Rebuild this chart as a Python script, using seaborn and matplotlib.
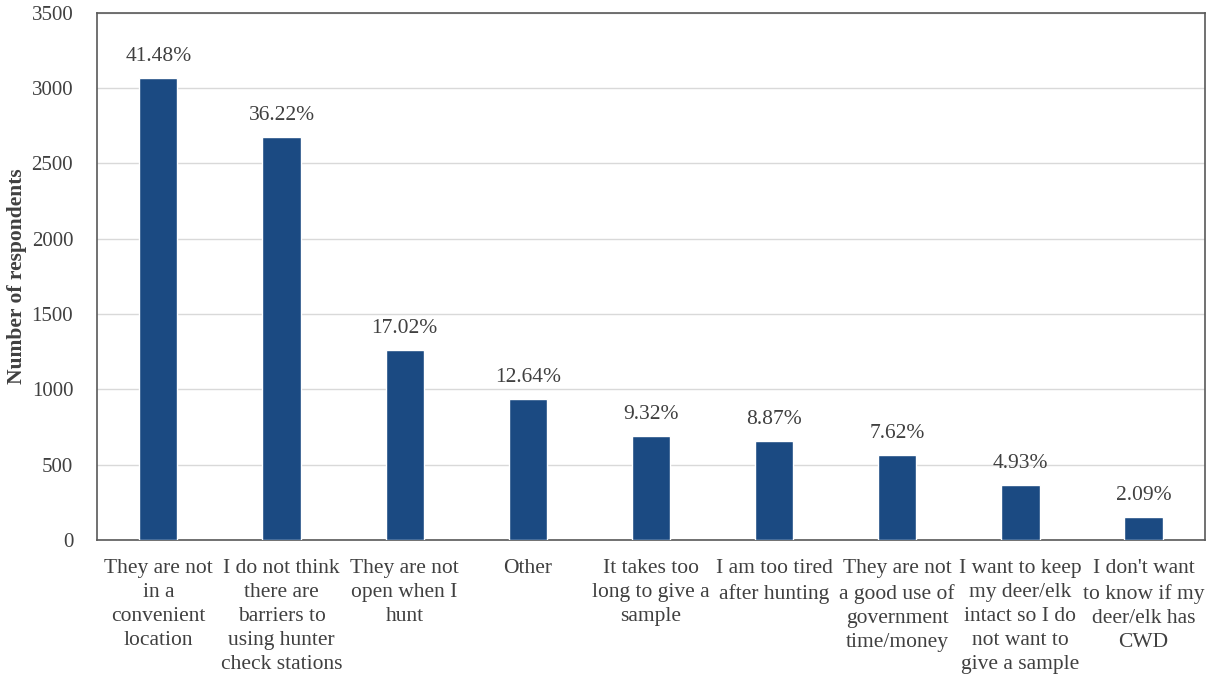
import numpy as np
import pandas as pd
import matplotlib
matplotlib.use("Agg")
import matplotlib.pyplot as plt
import seaborn as sns

# Data
categories = [
    "They are not\nin a\nconvenient\nlocation",
    "I do not think\nthere are\nbarriers to\nusing hunter\ncheck stations",
    "They are not\nopen when I\nhunt",
    "Other",
    "It takes too\nlong to give a\nsample",
    "I am too tired\nafter hunting",
    "They are not\na good use of\ngovernment\ntime/money",
    "I want to keep\nmy deer/elk\nintact so I do\nnot want to\ngive a sample",
    "I don't want\nto know if my\ndeer/elk has\nCWD",
]
counts = [3065, 2676, 1258, 934, 689, 655, 563, 364, 154]
percent_labels = ["41.48%", "36.22%", "17.02%", "12.64%", "9.32%",
                  "8.87%", "7.62%", "4.93%", "2.09%"]

df = pd.DataFrame({"reason": categories, "count": counts})

sns.set_theme(style="white")
plt.rcParams["font.family"] = ["Liberation Serif", "DejaVu Serif"]
text_color = "#404040"

fig = plt.figure(figsize=(12.1, 6.74), dpi=100)
ax = fig.add_axes([0.080, 0.199, 0.916, 0.782])

sns.barplot(data=df, x="reason", y="count", color="#1B4A82", width=0.31,
            saturation=1, ax=ax, zorder=3)

ax.set_ylim(0, 3500)
ax.set_yticks(np.arange(0, 3501, 500))
ax.set_xlim(-0.5, len(categories) - 0.5)
ax.yaxis.grid(True, color="#d9d9d9", linewidth=1, zorder=0)
ax.set_axisbelow(True)

for s in ax.spines.values():
    s.set_visible(True)
    s.set_color("#595959")
    s.set_linewidth(1.2)

ax.tick_params(axis="y", labelsize=15, colors=text_color, length=0, pad=17)
ax.tick_params(axis="x", labelsize=15.5, colors=text_color, length=0, pad=14)
for lbl in ax.get_xticklabels():
    lbl.set_linespacing(1.36)
    lbl.set_va("top")

ax.set_xlabel("")
ax.set_ylabel("Number of respondents", fontsize=15.5, fontweight="bold",
              color=text_color, labelpad=3)

for i, (c, p) in enumerate(zip(counts, percent_labels)):
    ax.text(i, c + 80, p, ha="center", va="bottom", fontsize=15.5, color=text_color)

fig.savefig("out.png", dpi=100)
